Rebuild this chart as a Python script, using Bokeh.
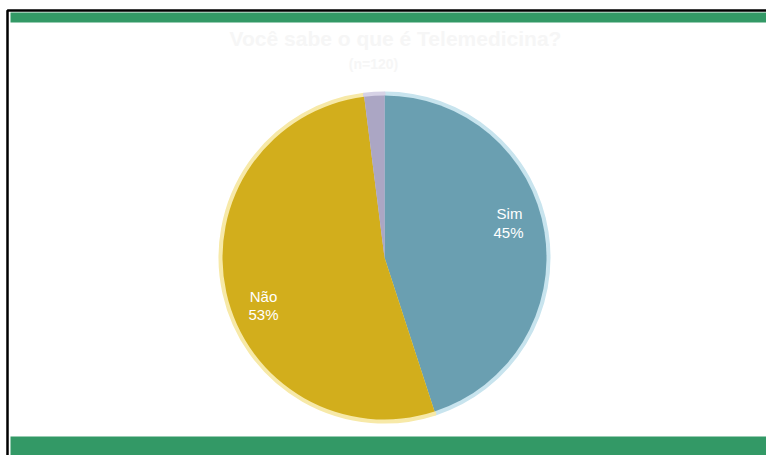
import math
from bokeh.plotting import figure
from bokeh.models import Range1d, ColumnDataSource
from bokeh.embed import file_html
from bokeh.resources import INLINE
from bokeh.core.properties import value

title_line1 = "Você sabe o que é Telemedicina?"
title_line2 = "(n=120)"
categories = ["Sim", "Não", "Outros"]
values = [45, 53, 2]
pct_labels = ["45%", "53%", ""]
colors = ["#6a9fb1", "#d2ae1c", "#aba6c4"]
edge_colors = ["#c8e4ee", "#f7e9a8", "#d6d2e6"]

W, H = 766, 455
p = figure(width=W, height=H, output_backend="svg", toolbar_location=None,
           x_range=Range1d(0, W), y_range=Range1d(0, H), min_border=0)
p.axis.visible = False
p.grid.visible = False
p.outline_line_color = None
p.background_fill_color = "white"
p.border_fill_color = "white"

def Y(py):
    return H - py

# frame: black border and green bars
p.quad(left=7, right=W + 5, top=Y(10), bottom=Y(H + 5), fill_color=None,
       line_color="black", line_width=2.5)
p.quad(left=10, right=W, top=Y(12), bottom=Y(22), fill_color="#339966", line_color=None)
p.quad(left=10, right=W, top=Y(436), bottom=Y(H), fill_color="#339966", line_color=None)

# title (very faint)
p.text(x=[395], y=[Y(38)], text=[title_line1], text_align="center", text_baseline="middle",
       text_font=value("Liberation Sans"), text_font_size="21px", text_font_style="bold",
       text_color="#f6f6f6")
p.text(x=[373], y=[Y(63)], text=[title_line2], text_align="center", text_baseline="middle",
       text_font=value("Liberation Sans"), text_font_size="14px", text_font_style="bold",
       text_color="#f6f6f6")

# pie
cx, cy, r = 384, 257, 163
total = sum(values)
starts, ends = [], []
a = math.pi / 2
for v in values:
    starts.append(a)
    a = a - v / total * 2 * math.pi
    ends.append(a)

src = ColumnDataSource(dict(cat=categories, start=starts, end=ends, color=colors, edge=edge_colors))
p.wedge(x=cx, y=Y(cy), radius=r + 2, start_angle="start", end_angle="end", direction="clock",
        fill_color="edge", line_color="edge", line_width=2, source=src)
p.wedge(x=cx, y=Y(cy), radius=r - 1, start_angle="start", end_angle="end", direction="clock",
        fill_color="color", line_color=None, source=src)

# labels
p.text(x=[509, 263], y=[Y(213), Y(296)], text=categories[:2], text_align="center",
       text_baseline="middle", text_font=value("Liberation Sans"), text_font_size="15px",
       text_color="white")
p.text(x=[508, 263], y=[Y(232), Y(314)], text=pct_labels[:2], text_align="center",
       text_baseline="middle", text_font=value("Liberation Sans"), text_font_size="15px",
       text_color="white")

open("out.html", "w").write(file_html(p, INLINE))
